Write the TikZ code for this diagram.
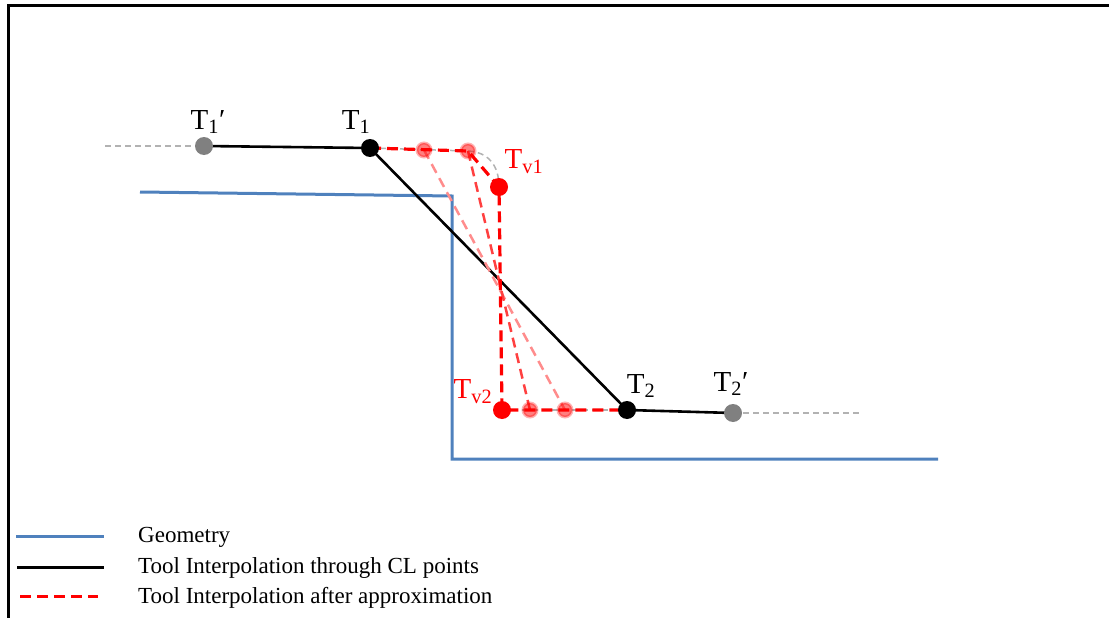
\documentclass[tikz,border=0pt]{standalone}
\usepackage{fontspec}
\setmainfont{Liberation Serif}
\pgfdeclarelayer{bg}
\pgfsetlayers{bg,main}
\definecolor{geoblue}{RGB}{79,129,189}
\begin{document}
\begin{tikzpicture}[x=1pt,y=-1pt,
  dot/.style={circle,inner sep=0pt,minimum size=18pt},
  blkdot/.style={dot,fill=black},
  grydot/.style={dot,fill=black!50},
  reddot/.style={dot,fill=red},
  lightdot/.style={dot,fill=red,fill opacity=0.5,draw=red,draw opacity=0.3,line width=3pt,minimum size=14pt},
  lbl/.style={font=\fontsize{29}{32}\selectfont,inner sep=0pt},
  leg/.style={font=\fontsize{23}{28}\selectfont,inner sep=0pt,anchor=base west},
  geo/.style={geoblue,line width=3pt},
  toolline/.style={black,line width=2.6pt},
  approx/.style={red,line width=3.2pt,dash pattern=on 11pt off 6pt},
  approxmid/.style={red!75,line width=2.5pt,dash pattern=on 10pt off 6pt},
  approxlight/.style={red!45,line width=2.5pt,dash pattern=on 10pt off 6pt},
  guide/.style={black!30,line width=1.5pt,dash pattern=on 6pt off 4pt}
]
\path[use as bounding box] (0,0) rectangle (1109,618);
% frame
\draw[line width=3pt] (8,618) -- (8,6) -- (1109,6);

% points
\node[grydot] (T1p) at (204,146) {};
\node[blkdot] (T1) at (370,148) {};
\node[lightdot] (L1) at (424,150) {};
\node[lightdot] (L2) at (468,151) {};
\node[reddot] (Tv1) at (499,187) {};
\node[reddot] (Tv2) at (502,410) {};
\node[lightdot] (L3) at (530,410) {};
\node[lightdot] (L4) at (565,410) {};
\node[blkdot] (T2) at (627,410) {};
\node[grydot] (T2p) at (733,413) {};
\coordinate (G1) at (105,146);
\coordinate (G2) at (860,413);

% labels
\node[lbl] (lT1p) at (208,122) {T\textsubscript{1}′};
\node[lbl] (lT1) at (356,122) {T\textsubscript{1}};
\node[lbl,red] (lTv1) at (524,162) {T\textsubscript{v1}};
\node[lbl,red] (lTv2) at (473,392) {T\textsubscript{v2}};
\node[lbl] (lT2) at (641,386) {T\textsubscript{2}};
\node[lbl] (lT2p) at (731,384) {T\textsubscript{2}′};

% geometry
\coordinate (B1) at (140,192);
\coordinate (B2) at (452,196);
\coordinate (B3) at (452,459);
\coordinate (B4) at (938,459);

\begin{pgfonlayer}{bg}
\draw[geo] (B1) -- (B2) -- (B3) -- (B4);
\draw[guide] (G1) -- (T1p.center);
\draw[guide] (T2p.center) -- (G2);
\draw[guide] (T1.center) -- (L2.center);
\draw[guide] (L2.center) .. controls (488,152) and (499,165) .. (Tv1.center);
\draw[guide] (Tv2.center) -- (T2.center);
\draw[toolline] (T1p.center) -- (T1.center) -- (T2.center) -- (T2p.center);
\draw[approxlight] (L1.center) -- (L4.center);
\draw[approxmid] (L2.center) -- (L3.center);
\draw[approx] (T1.center) -- (L2.center) -- (Tv1.center) -- (Tv2.center) -- (T2.center);
\end{pgfonlayer}

% legend
\coordinate (a1) at (16,536); \coordinate (a2) at (104,536);
\coordinate (b1) at (17,567); \coordinate (b2) at (104,567);
\coordinate (c1) at (20,596); \coordinate (c2) at (98,596);
\draw[geo] (a1) -- (a2);
\draw[toolline,line width=3pt] (b1) -- (b2);
\draw[red,line width=3pt,dash pattern=on 11pt off 6pt] (c1) -- (c2);
\node[leg] (t1) at (138,542) {Geometry};
\node[leg] (t2) at (138,573) {Tool Interpolation through CL points};
\node[leg] (t3) at (138,603) {Tool Interpolation after approximation};
\end{tikzpicture}
\end{document}
